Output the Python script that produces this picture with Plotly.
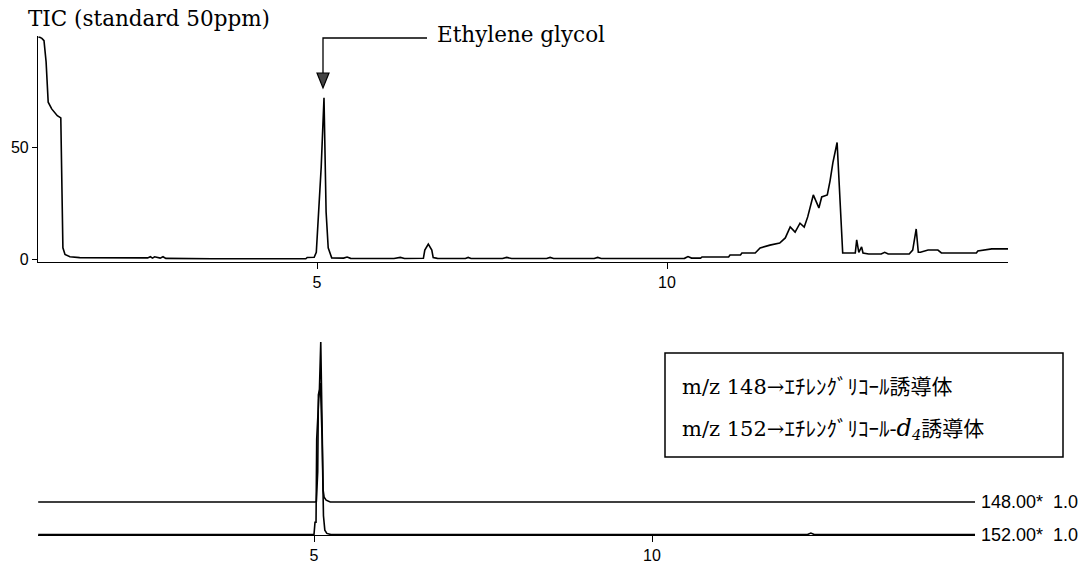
import plotly.graph_objects as go

# ---------------- data ----------------
# TIC (top panel): retention time (min) and relative intensity
tic_time = [
    1.02, 1.04, 1.07, 1.10, 1.13, 1.15, 1.16, 1.21, 1.29, 1.34,
    1.355, 1.37, 1.40, 1.47, 1.61, 2.00, 2.58, 2.62, 2.65, 2.68,
    2.76, 2.80, 2.84, 3.50, 4.20, 4.84, 4.86, 4.96, 4.99, 5.03,
    5.06, 5.10, 5.13, 5.16, 5.21, 5.38, 5.43, 5.48, 6.10, 6.19,
    6.25, 6.52, 6.54, 6.59, 6.64, 6.66, 6.72, 7.12, 7.16, 7.20,
    7.65, 7.71, 7.78, 8.28, 8.33, 8.38, 8.96, 9.01, 9.06, 9.60,
    10.25, 10.30, 10.35, 10.48, 10.50, 10.88, 10.90, 11.05, 11.07, 11.26,
    11.33, 11.47, 11.61, 11.69, 11.76, 11.83, 11.90, 11.96, 12.01, 12.09,
    12.17, 12.21, 12.29, 12.33, 12.37, 12.43, 12.44, 12.46, 12.49, 12.51,
    12.69, 12.71, 12.74, 12.78, 12.80, 12.84, 12.88, 13.06, 13.11, 13.16,
    13.46, 13.51, 13.56, 13.59, 13.62, 13.73, 13.80, 13.87, 13.92, 14.00,
    14.42, 14.44, 14.57, 14.64, 14.88,
]
tic_intensity = [
    99, 99, 98.5, 97.5, 88, 75, 70, 67, 64, 63,
    40, 5, 2, 1, 0.6, 0.5, 0.5, 1.0, 0.4, 1.0,
    0.4, 1.0, 0.3, 0.1, 0.1, 0.1, 0.7, 0.8, 3, 22,
    41, 72, 21, 5, 0.5, 0.4, 0.9, 0.3, 0.2, 0.7,
    0.2, 0.3, 4, 6.7, 4, 0.6, 0.3, 0.2, 0.7, 0.2,
    0.2, 0.7, 0.2, 0.2, 0.7, 0.2, 0.2, 0.7, 0.2, 0.2,
    0.3, 1.1, 0.4, 0.4, 0.9, 0.9, 1.8, 1.8, 2.7, 2.7,
    4.9, 6.2, 7.1, 9.4, 14.3, 12, 16, 14.3, 18.8, 28.6,
    22.8, 27.7, 28.6, 35, 43, 52, 45.5, 36.6, 17.4, 2.7,
    2.7, 8.5, 3, 5.4, 2.7, 2.5, 2.2, 2.2, 3, 2.2,
    2.2, 4, 13.4, 3, 3, 4, 4, 4, 2.7, 2.7,
    2.7, 3.6, 4, 4.5, 4.5,
]

# Mass chromatograms (bottom panel), relative intensity (%)
mz148_time = [0.92, 5.02, 5.035, 5.045, 5.055, 5.065, 5.08, 5.10, 5.115, 5.125,
              5.135, 5.15, 5.18, 5.24, 14.78]
mz148_intensity = [0, 0, 0.5, 18.75, 19, 67, 70, 100, 55, 50,
                   7.5, 3, 1.2, 0, 0]
mz152_time = [0.92, 5.00, 5.015, 5.03, 5.04, 5.07, 5.095, 5.12, 5.14, 5.16,
              5.19, 5.25, 12.30, 12.35, 12.40, 14.78]
mz152_intensity = [0.3, 0.3, 8, 8, 60, 85, 95, 60, 12, 3,
                   1, 0.3, 0.3, 1.2, 0.3, 0.3]

assert len(tic_time) == len(tic_intensity)
assert len(mz148_time) == len(mz148_intensity)
assert len(mz152_time) == len(mz152_intensity)

trace_labels = ["148.00*  1.0", "152.00*  1.0"]
title_text = "TIC (standard 50ppm)"
peak_label = "Ethylene glycol"
legend_lines = [
    "m/z 148→ｴﾁﾚﾝｸﾞﾘｺｰﾙ誘導体",
    "m/z 152→ｴﾁﾚﾝｸﾞﾘｺｰﾙ-<i><span style='font-size:24px'>d</span></i><sub><i>4</i></sub>誘導体",
]

# ---------------- layout helpers ----------------
W, H = 1090, 563
def px(xp):
    return xp / W
def py(yp):
    return (H - yp) / H

OFFSET_148 = 20.6  # vertical offset of m/z 148 trace above m/z 152

SERIF = "DejaVu Serif, Noto Sans CJK JP"
SANS = "Liberation Sans, Arial, sans-serif"

fig = go.Figure()

fig.add_trace(go.Scatter(x=tic_time, y=tic_intensity, mode="lines",
                         line=dict(color="black", width=1.6),
                         xaxis="x", yaxis="y", showlegend=False, hoverinfo="skip"))
fig.add_trace(go.Scatter(x=mz148_time, y=[v + OFFSET_148 for v in mz148_intensity],
                         mode="lines", line=dict(color="black", width=1.6),
                         xaxis="x2", yaxis="y2", showlegend=False, hoverinfo="skip"))
fig.add_trace(go.Scatter(x=mz152_time, y=mz152_intensity, mode="lines",
                         line=dict(color="black", width=1.6),
                         xaxis="x2", yaxis="y2", showlegend=False, hoverinfo="skip"))

# top axes: x 5 at 317px, 10 at 667px ; y 0 at 259px, 50 at 147px
top_x0 = 5 + (38 - 317) / 70
top_x1 = 5 + (1008 - 317) / 70
top_y0 = (259 - 262) / 2.24
top_y1 = (259 - 36) / 2.24
# bottom axes: x 5 at 314px, 10 at 652px
bot_x0 = 5 + (38 - 314) / 67.6
bot_x1 = 5 + (975 - 314) / 67.6

tickfont = dict(family=SANS, size=16, color="black")

fig.update_layout(
    width=W, height=H,
    margin=dict(l=0, r=0, t=0, b=0),
    paper_bgcolor="white", plot_bgcolor="white",
    xaxis=dict(domain=[px(38), px(1008)], range=[top_x0, top_x1],
               tickvals=[5, 10], ticktext=["5", "10"], ticks="outside", ticklen=6,
               tickcolor="black", showline=True, linecolor="black", linewidth=1.2,
               showgrid=False, zeroline=False, tickfont=tickfont, anchor="y",
               automargin=False),
    yaxis=dict(domain=[py(262), py(36)], range=[top_y0, top_y1],
               tickvals=[0, 50], ticktext=["0", "50"], ticks="outside", ticklen=5,
               tickcolor="black", showline=True, linecolor="black", linewidth=1.2,
               showgrid=False, zeroline=False, tickfont=tickfont, anchor="x",
               automargin=False),
    xaxis2=dict(domain=[px(38), px(975)], range=[bot_x0, bot_x1],
                tickvals=[5, 10], ticktext=["5", "10"], ticks="outside", ticklen=6,
                tickcolor="black", showline=True, linecolor="black", linewidth=1.2,
                showgrid=False, zeroline=False, tickfont=tickfont, anchor="y2",
                automargin=False),
    yaxis2=dict(domain=[py(535), py(335)], range=[0, 125], visible=False,
                anchor="x2"),
)

# Ethylene glycol pointer: horizontal leader + vertical line + filled arrowhead
ax_px, lead_end_px, lead_y, head_top, head_tip, head_half = 323, 427, 38, 73, 88, 6
fig.add_shape(type="path", xref="paper", yref="paper",
              path=(f"M {px(lead_end_px)} {py(lead_y)} L {px(ax_px)} {py(lead_y)} "
                    f"L {px(ax_px)} {py(head_top)}"),
              line=dict(color="black", width=1.3))
fig.add_shape(type="path", xref="paper", yref="paper",
              path=(f"M {px(ax_px - head_half)} {py(head_top)} "
                    f"L {px(ax_px + head_half)} {py(head_top)} "
                    f"L {px(ax_px)} {py(head_tip)} Z"),
              fillcolor="#444", line=dict(color="black", width=1.2))
fig.add_annotation(x=px(435), y=py(35), xref="paper", yref="paper",
                   xanchor="left", yanchor="middle", showarrow=False,
                   text=peak_label, font=dict(family=SERIF, size=21.5, color="black"))

# title
fig.add_annotation(x=px(26), y=py(18), xref="paper", yref="paper",
                   xanchor="left", yanchor="middle", showarrow=False,
                   text=title_text, font=dict(family=SERIF, size=21.5, color="black"))

# trace labels on the right
for lbl, base in zip(trace_labels, [OFFSET_148, 0]):
    fig.add_annotation(x=px(979), y=base, xref="paper", yref="y2",
                       xanchor="left", yanchor="middle", showarrow=False,
                       text=lbl, font=dict(family=SANS, size=18, color="black"))

# legend box
fig.add_shape(type="rect", xref="paper", yref="paper",
              x0=px(665), x1=px(1063), y0=py(457), y1=py(353),
              line=dict(color="black", width=1.5))
for txt, yy in zip(legend_lines, [387, 428]):
    fig.add_annotation(x=px(680), y=py(yy), xref="paper", yref="paper",
                       xanchor="left", yanchor="middle", showarrow=False,
                       text=txt, font=dict(family=SERIF, size=21, color="black"))

fig.write_html("out.html")
